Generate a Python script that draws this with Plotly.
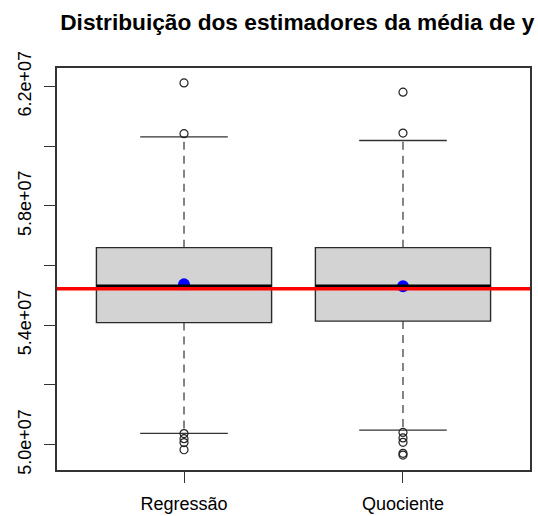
import plotly.graph_objects as go

# Estimators compared and their summary statistics (values of the mean of y)
estimators = ["Regressão", "Quociente"]
q1 = [54.09e6, 54.14e6]
medians = [55.29e6, 55.29e6]
q3 = [56.60e6, 56.60e6]
whisker_low = [50.38e6, 50.49e6]
whisker_high = [60.31e6, 60.19e6]
means = [55.37e6, 55.31e6]
outliers = [
    [62.12e6, 60.42e6, 50.37e6, 50.20e6, 50.07e6, 49.83e6],
    [61.81e6, 60.44e6, 50.41e6, 50.225e6, 50.077e6, 49.71e6, 49.65e6],
]
true_mean = 55.22e6

# Axis ticks
ytick_vals = [50e6, 52e6, 54e6, 56e6, 58e6, 60e6, 62e6]
ytick_text = ["5.0e+07", "", "5.4e+07", "", "5.8e+07", "", "6.2e+07"]

FONT = "Liberation Sans, Arial, sans-serif"
positions = list(range(1, len(estimators) + 1))
box_w = 0.8
staple_w = box_w / 2

# y range as in base R: data range extended by 4% on each side
all_vals = [v for grp in outliers for v in grp] + whisker_low + whisker_high
lo, hi = min(all_vals), max(all_vals)
pad = 0.04 * (hi - lo)
y_range = [lo - pad, hi + pad]
x_range = [0.5 - 0.08, len(estimators) + 0.5 + 0.08]

fig = go.Figure()

# Boxes (whiskers are drawn separately as dashed lines)
fig.add_trace(go.Box(
    x=positions, q1=q1, median=medians, q3=q3,
    lowerfence=q1, upperfence=q3,
    width=box_w, whiskerwidth=0,
    fillcolor="#D3D3D3",
    line=dict(color="#2a2a2a", width=1.4),
    boxpoints=False, hoverinfo="skip", showlegend=False,
))

# Means (drawn under the median bars)
fig.add_trace(go.Scatter(
    x=positions, y=means, mode="markers",
    marker=dict(symbol="circle", size=12, color="#0000FF", line=dict(width=0)),
    showlegend=False, hoverinfo="skip",
))

def segments(xs0, xs1, ys0, ys1):
    xs, ys = [], []
    for a, b, c, d in zip(xs0, xs1, ys0, ys1):
        xs += [a, b, None]
        ys += [c, d, None]
    return xs, ys

# Thick median bars
mx, my = segments([p - box_w / 2 for p in positions], [p + box_w / 2 for p in positions], medians, medians)
fig.add_trace(go.Scatter(x=mx, y=my, mode="lines", line=dict(color="black", width=4.5),
                         showlegend=False, hoverinfo="skip"))

# Dashed whiskers
wx, wy = segments(positions + positions, positions + positions,
                  q3 + q1, whisker_high + whisker_low)
fig.add_trace(go.Scatter(x=wx, y=wy, mode="lines",
                         line=dict(color="#333333", width=1.2, dash="8px,6px"),
                         showlegend=False, hoverinfo="skip"))

# Whisker staples
sx0 = [p - staple_w / 2 for p in positions] * 2
sx1 = [p + staple_w / 2 for p in positions] * 2
sx, sy = segments(sx0, sx1, whisker_high + whisker_low, whisker_high + whisker_low)
fig.add_trace(go.Scatter(x=sx, y=sy, mode="lines", line=dict(color="#333333", width=1.3),
                         showlegend=False, hoverinfo="skip"))

# Outliers
ox, oy = [], []
for p, grp in zip(positions, outliers):
    ox += [p] * len(grp)
    oy += grp
fig.add_trace(go.Scatter(
    x=ox, y=oy, mode="markers",
    marker=dict(symbol="circle-open", size=8, color="#222222", line=dict(width=1.2)),
    showlegend=False, hoverinfo="skip",
))

# Reference line at the population mean
fig.add_shape(type="line", xref="paper", x0=0, x1=1, yref="y", y0=true_mean, y1=true_mean,
              line=dict(color="#FF0000", width=3.5), layer="above")

fig.update_layout(
    width=538, height=516,
    margin=dict(l=57, r=8, t=68, b=46),
    paper_bgcolor="white", plot_bgcolor="white",
    font=dict(family=FONT, size=18, color="black"),
    title=dict(text="<b>Distribuição dos estimadores da média de y</b>",
               font=dict(family=FONT, size=22.7, color="black"),
               xref="paper", x=0.508, xanchor="center",
               yref="container", y=1 - 22 / 516, yanchor="middle"),
    showlegend=False,
)
fig.update_xaxes(
    range=x_range, tickvals=positions, ticktext=estimators,
    ticks="outside", ticklen=11, tickcolor="#333333", tickwidth=1.3,
    ticklabelstandoff=6, automargin=False,
    showgrid=False, zeroline=False,
    showline=True, mirror=True, linecolor="#333333", linewidth=1.5,
    tickfont=dict(family=FONT, size=18, color="black"),
)
fig.update_yaxes(
    range=y_range, tickvals=ytick_vals, ticktext=ytick_text,
    ticks="outside", ticklen=11, tickcolor="#333333", tickwidth=1.3,
    tickangle=-90, ticklabelstandoff=6, automargin=False,
    showgrid=False, zeroline=False,
    showline=True, mirror=True, linecolor="#333333", linewidth=1.5,
    tickfont=dict(family=FONT, size=18, color="black"),
)

fig.write_html("out.html")
